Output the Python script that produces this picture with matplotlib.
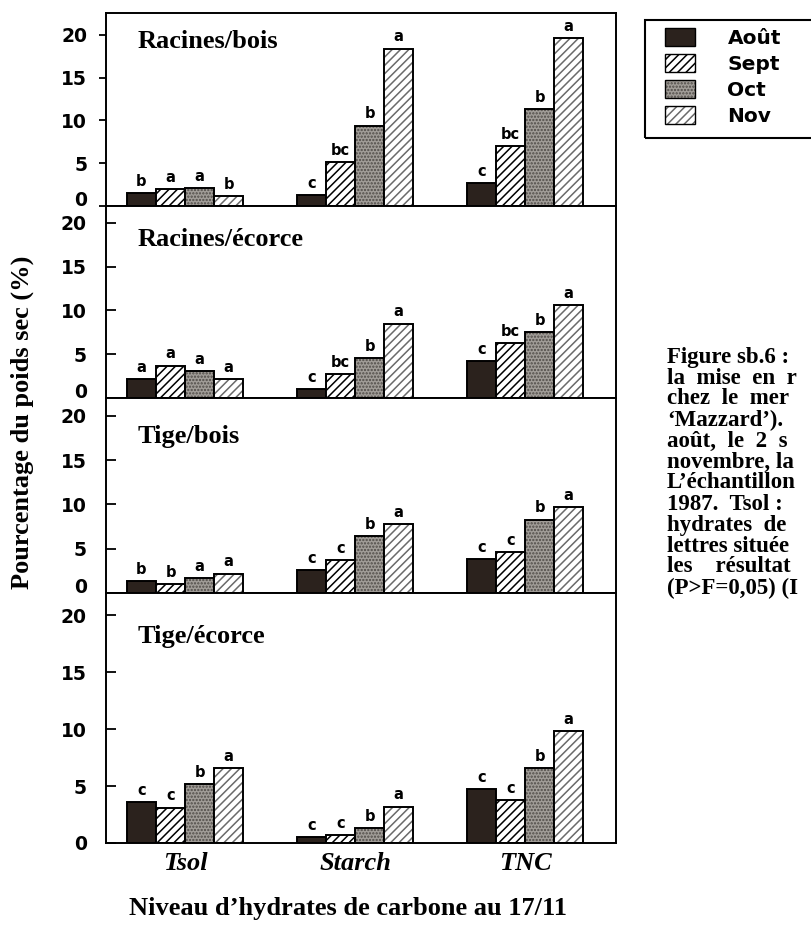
import matplotlib
matplotlib.use("Agg")

import matplotlib.pyplot as plt
import matplotlib.transforms as mtransforms
import numpy as np

from matplotlib.legend_handler import HandlerTuple
from matplotlib.patches import Patch, Rectangle


groupes = ["Tsol", "Starch", "TNC"]
mois = ["Août", "Sept", "Oct", "Nov"]
panneaux = ["Racines/bois", "Racines/écorce", "Tige/bois", "Tige/écorce"]
graduations = [0, 5, 10, 15, 20]

# valeurs : [groupe][mois]
racines_bois = [[1.5, 2.0, 2.1, 1.2], [1.3, 5.1, 9.4, 18.4], [2.7, 7.0, 11.3, 19.6]]
racines_ecorce = [[2.2, 3.7, 3.1, 2.2], [1.0, 2.75, 4.6, 8.5], [4.2, 6.3, 7.5, 10.6]]
tige_bois = [[1.3, 1.05, 1.7, 2.2], [2.6, 3.7, 6.45, 7.8], [3.85, 4.6, 8.3, 9.7]]
tige_ecorce = [[3.6, 3.1, 5.2, 6.6], [0.5, 0.7, 1.3, 3.2], [4.7, 3.8, 6.6, 9.85]]

lettres_racines_bois = [["b", "a", "a", "b"], ["c", "bc", "b", "a"], ["c", "bc", "b", "a"]]
lettres_racines_ecorce = [["a", "a", "a", "a"], ["c", "bc", "b", "a"], ["c", "bc", "b", "a"]]
lettres_tige_bois = [["b", "b", "a", "a"], ["c", "c", "b", "a"], ["c", "c", "b", "a"]]
lettres_tige_ecorce = [["c", "c", "b", "a"], ["c", "c", "b", "a"], ["c", "c", "b", "a"]]

# texte de la legende de figure, coupe par le bord droit
legende_texte = [
    "Figure sb.6 :",
    "la  mise  en  r",
    "chez  le  mer",
    "‘Mazzard’).",
    "août,  le  2  s",
    "novembre, la",
    "L’échantillon",
    "1987.  Tsol :",
    "hydrates  de",
    "lettres située",
    "les    résultat",
    "(P>F=0,05) (I",
]

# style des barres : (fond, couleur hachure, hachure)
styles = [
    ("#2b221d", "#2b221d", None),
    ("white", "black", "////"),
    ("#a19d98", "#4f4b47", "....."),
    ("white", "#6a6a6a", "////"),
]

plt.rcParams["hatch.linewidth"] = 1.1

W, H = 812, 926
fig = plt.figure(figsize=(W / 100, H / 100), dpi=100)

gs = fig.add_gridspec(
    4, 1,
    left=106 / W, right=616 / W,
    top=1 - 13 / H, bottom=1 - 843 / H,
    height_ratios=[193, 192, 195, 250],
    hspace=0
)

hauts = [22.57, 21.94, 22.03, 21.93]
decal_titre = [29, 34, 39, 43]

donnees = [racines_bois, racines_ecorce, tige_bois, tige_ecorce]
lettres = [lettres_racines_bois, lettres_racines_ecorce, lettres_tige_bois, lettres_tige_ecorce]

positions = np.arange(len(groupes))
largeur = 0.171

for i in range(4):

    ax = fig.add_subplot(gs[i])

    for j in range(len(mois)):

        x = positions + (j - 1.5) * largeur
        h = [donnees[i][g][j] for g in range(len(groupes))]
        fond, couleur, hachure = styles[j]

        ax.bar(x, h, largeur, facecolor=fond, edgecolor=couleur, hatch=hachure, linewidth=0)
        ax.bar(x, h, largeur, fill=False, edgecolor="black", linewidth=1.4)

        for xi, hi, g in zip(x, h, range(len(groupes))):
            ax.annotate(
                lettres[i][g][j], (xi, hi),
                xytext=(0, 3), textcoords="offset points",
                ha="center", va="bottom",
                fontsize=10.5, fontweight="bold", family="DejaVu Sans"
            )

    ax.set_xlim(-0.465, 2.535)
    ax.set_ylim(0, hauts[i])
    ax.set_yticks(graduations)
    ax.set_yticklabels([str(v) for v in graduations])

    for s in ax.spines.values():
        s.set_linewidth(1.4)

    if i == 0:
        ax.tick_params(axis="y", direction="out", length=5, width=1.3, pad=8.6)
    else:
        ax.tick_params(axis="y", direction="in", length=7, width=1.3, pad=13.7)

    for lab in ax.get_yticklabels():
        lab.set_fontsize(13.5)
        lab.set_fontweight("bold")
        lab.set_family("DejaVu Sans")

    # le 0 remonte un peu pour ne pas toucher le 20 du panneau suivant
    if i < 3:
        ax.get_yticklabels()[0].set_verticalalignment("baseline")

    if i < 3:
        ax.set_xticks([])
    else:
        ax.set_xticks(positions)
        ax.set_xticklabels(groupes)
        ax.tick_params(axis="x", length=0, pad=6.5)
        for lab in ax.get_xticklabels():
            lab.set_fontsize(19)
            lab.set_fontweight("bold")
            lab.set_fontstyle("italic")
            lab.set_family("Liberation Serif")

    trans = mtransforms.offset_copy(ax.transAxes, fig=fig, x=32, y=-decal_titre[i], units="dots")
    ax.text(
        0, 1, panneaux[i], transform=trans,
        ha="left", va="center",
        fontsize=19, fontweight="bold", family="Liberation Serif"
    )

fig.text(
    22 / W, 1 - 422 / H, "Pourcentage du poids sec (%)",
    rotation=90, ha="center", va="center",
    fontsize=19, fontweight="bold", family="Liberation Serif"
)

fig.text(
    348 / W, 1 - 908 / H, "Niveau d’hydrates de carbone au 17/11",
    ha="center", va="center",
    fontsize=19, fontweight="bold", family="Liberation Serif"
)

# legende a droite, cadre coupe par le bord
fig.patches.append(Rectangle(
    (645 / W, 1 - 138 / H), 0.3, 118 / H,
    transform=fig.transFigure, fill=False, edgecolor="black", linewidth=1.5
))

poignees = []
for fond, couleur, hachure in styles:
    poignees.append((
        Patch(facecolor=fond, edgecolor=couleur, hatch=hachure, linewidth=0),
        Patch(fill=False, edgecolor="black", linewidth=1.0),
    ))

fig.legend(
    poignees, mois,
    loc="upper left", bbox_to_anchor=(655 / W, 1 - 18 / H),
    frameon=False, handler_map={tuple: HandlerTuple(ndivide=1, pad=0)},
    prop={"family": "DejaVu Sans", "weight": "bold", "size": 14.5},
    handlelength=1.5, handleheight=1.0, handletextpad=1.6,
    labelspacing=0.3, borderpad=0
)

for k, ligne in enumerate(legende_texte):
    fig.text(
        667 / W, 1 - (357 + 21 * k) / H, ligne,
        ha="left", va="center",
        fontsize=16.5, fontweight="bold", family="Liberation Serif"
    )

fig.savefig("out.png", dpi=100)
